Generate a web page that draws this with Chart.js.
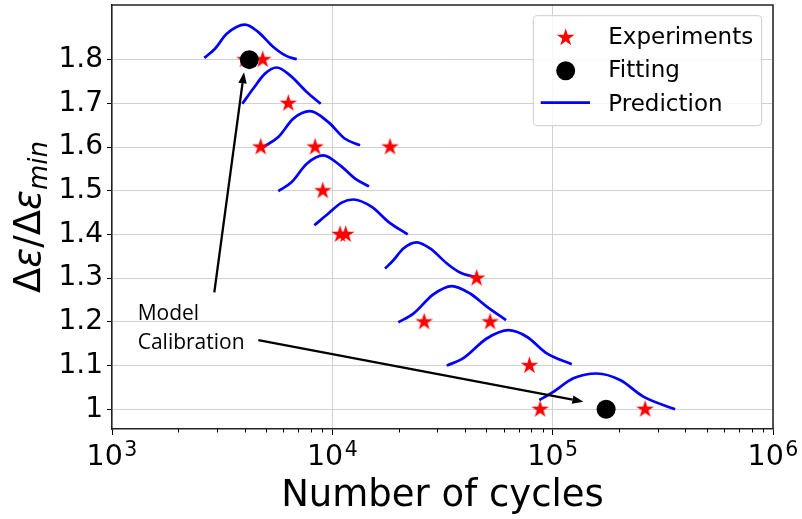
<!DOCTYPE html>
<html><head><meta charset="utf-8">
<script src="https://cdn.jsdelivr.net/npm/chart.js@4.4.1/dist/chart.umd.min.js"></script>
<style>html,body{margin:0;padding:0;background:#fff}</style>
</head><body>
<canvas id="c" width="802" height="519"></canvas>
<script>
// ---------- data ----------
const xTickExponents = [3, 4, 5, 6];
const yTickValues = [1, 1.1, 1.2, 1.3, 1.4, 1.5, 1.6, 1.7, 1.8];
const yTickLabels = ['1', '1.1', '1.2', '1.3', '1.4', '1.5', '1.6', '1.7', '1.8'];

const expCycles = [4015, 4830, 6310, 4730, 8350, 18280, 9050, 10840, 11500, 45200, 26100, 52000, 78400, 87700, 262700];
const expRatio  = [1.8, 1.8, 1.7, 1.6, 1.6, 1.6, 1.5, 1.4, 1.4, 1.3, 1.2, 1.2, 1.1, 1.0, 1.0];

const fitCycles = [4200, 174800];
const fitRatio  = [1.8, 1.0];

const pred18Cycles = [2624, 2934, 3316, 4015, 4614, 5398, 6209, 6893];
const pred18Ratio  = [1.804, 1.825, 1.859, 1.880, 1.863, 1.829, 1.808, 1.801];
const pred17Cycles = [3904, 4379, 4949, 5592, 6427, 7652, 8858];
const pred17Ratio  = [1.699, 1.734, 1.768, 1.782, 1.764, 1.726, 1.699];
const pred16Cycles = [4862, 5687, 6653, 7921, 9590, 11420, 13360];
const pred16Ratio  = [1.600, 1.623, 1.665, 1.682, 1.657, 1.619, 1.604];
const pred15Cycles = [5687, 6542, 7652, 9101, 10840, 12680, 14680];
const pred15Ratio  = [1.499, 1.520, 1.562, 1.581, 1.558, 1.528, 1.510];
const pred14Cycles = [8285, 9590, 11030, 12460, 15100, 17960, 21990];
const pred14Ratio  = [1.421, 1.448, 1.473, 1.480, 1.463, 1.429, 1.400];
const pred13Cycles = [17350, 18920, 21010, 24160, 27770, 33060, 37980, 46000];
const pred13Ratio  = [1.322, 1.341, 1.368, 1.382, 1.368, 1.334, 1.313, 1.301];
const pred12Cycles = [19930, 23320, 28740, 34830, 42190, 50220, 61440];
const pred12Ratio  = [1.199, 1.219, 1.263, 1.282, 1.265, 1.235, 1.204];
const pred11Cycles = [33060, 39320, 50220, 62930, 76270, 94010, 122100];
const pred11Ratio  = [1.100, 1.117, 1.162, 1.181, 1.166, 1.128, 1.103];
const pred10Cycles = [87010, 100700, 124200, 158600, 202300, 258000, 359400];
const pred10Ratio  = [1.021, 1.040, 1.071, 1.082, 1.067, 1.029, 1.000];

// annotation (data coordinates)
const noteLines = ['Model', 'Calibration'];
const noteAt = { x: 1308, y1: 1.2041, y2: 1.1371 };
const arrowUp = { fromX: 2913, fromY: 1.2674, toX: 3973, toY: 1.771 };
const arrowDown = { fromX: 4614, fromY: 1.1584, toX: 137900, toY: 1.0174 };

// ---------- helpers ----------
const RED = '#ff0000', BLUE = '#0000ff';
const pts = (xs, ys) => xs.map((x, i) => ({ x: x, y: ys[i] }));

function starPath(g, cx, cy, R) {
  const r = R * 0.381966;
  g.beginPath();
  for (let i = 0; i < 10; i++) {
    const a = -Math.PI / 2 + i * Math.PI / 5;
    const rr = i % 2 === 0 ? R : r;
    const px = cx + rr * Math.cos(a), py = cy + rr * Math.sin(a);
    if (i === 0) g.moveTo(px, py); else g.lineTo(px, py);
  }
  g.closePath();
}
function makeStar(R) {
  const size = Math.ceil(2 * R + 2);
  const c = document.createElement('canvas');
  c.width = size; c.height = size;
  const g = c.getContext('2d');
  starPath(g, size / 2, size / 2, R);
  g.fillStyle = RED; g.fill();
  return c;
}
const starImg = makeStar(9.3);

const predSets = [
  [pred18Cycles, pred18Ratio], [pred17Cycles, pred17Ratio], [pred16Cycles, pred16Ratio],
  [pred15Cycles, pred15Ratio], [pred14Cycles, pred14Ratio], [pred13Cycles, pred13Ratio],
  [pred12Cycles, pred12Ratio], [pred11Cycles, pred11Ratio], [pred10Cycles, pred10Ratio]
].map(([xs, ys]) => ({
  data: pts(xs, ys), showLine: true, borderColor: BLUE, borderWidth: 2.7,
  pointRadius: 0, cubicInterpolationMode: 'monotone', fill: false
}));

const datasets = [
  { label: 'Fitting', data: pts(fitCycles, fitRatio), pointStyle: 'circle', pointRadius: 9.5,
    backgroundColor: '#000', borderColor: '#000', borderWidth: 0 },
  { label: 'Experiments', data: pts(expCycles, expRatio), pointStyle: starImg, pointRadius: 9.3 },
  ...predSets
];

function arrow(g, x1, y1, x2, y2) {
  const ang = Math.atan2(y2 - y1, x2 - x1);
  const hl = 11, hw = 4.2;
  const bx = x2 - hl * Math.cos(ang), by = y2 - hl * Math.sin(ang);
  g.beginPath(); g.moveTo(x1, y1); g.lineTo(bx, by);
  g.lineWidth = 2.3; g.strokeStyle = '#000'; g.stroke();
  g.beginPath();
  g.moveTo(x2, y2);
  g.lineTo(bx + hw * Math.sin(ang), by - hw * Math.cos(ang));
  g.lineTo(bx - hw * Math.sin(ang), by + hw * Math.cos(ang));
  g.closePath(); g.fillStyle = '#000'; g.fill();
}

const decor = {
  id: 'decor',
  afterDatasetsDraw(chart) {
    const g = chart.ctx, xs = chart.scales.x, ys = chart.scales.y;
    g.save();
    arrow(g, xs.getPixelForValue(arrowUp.fromX), ys.getPixelForValue(arrowUp.fromY),
             xs.getPixelForValue(arrowUp.toX), ys.getPixelForValue(arrowUp.toY));
    arrow(g, xs.getPixelForValue(arrowDown.fromX), ys.getPixelForValue(arrowDown.fromY),
             xs.getPixelForValue(arrowDown.toX), ys.getPixelForValue(arrowDown.toY));
    g.fillStyle = '#000';
    g.font = '21px "Open Sans"';
    g.textAlign = 'left'; g.textBaseline = 'alphabetic';
    g.fillText(noteLines[0], xs.getPixelForValue(noteAt.x), ys.getPixelForValue(noteAt.y1));
    g.fillText(noteLines[1], xs.getPixelForValue(noteAt.x), ys.getPixelForValue(noteAt.y2));
    g.restore();
  },
  afterDraw(chart) {
    const g = chart.ctx, xs = chart.scales.x, ys = chart.scales.y, a = chart.chartArea;
    g.save();
    // frame top/right
    g.strokeStyle = '#222'; g.lineWidth = 1.5;
    g.beginPath();
    g.moveTo(a.left, a.top); g.lineTo(a.right, a.top); g.lineTo(a.right, a.bottom);
    g.stroke();
    // minor ticks
    g.strokeStyle = '#000'; g.lineWidth = 1;
    for (let e = xTickExponents[0]; e < xTickExponents[xTickExponents.length - 1]; e++) {
      for (let k = 2; k <= 9; k++) {
        const px = Math.round(xs.getPixelForValue(k * Math.pow(10, e))) + 0.5;
        g.beginPath(); g.moveTo(px, a.bottom); g.lineTo(px, a.bottom + 3.5); g.stroke();
      }
    }
    // x tick labels 10^n
    g.fillStyle = '#000'; g.textBaseline = 'alphabetic'; g.textAlign = 'left';
    xTickExponents.forEach(n => {
      const px = xs.getPixelForValue(Math.pow(10, n));
      g.font = '28.5px "DejaVu Sans"';
      const w1 = g.measureText('10').width;
      g.font = '20.5px "DejaVu Sans"';
      const w2 = g.measureText(String(n)).width;
      const x0 = px - (w1 + w2 + 1.5) / 2;
      g.font = '28.5px "DejaVu Sans"';
      g.fillText('10', x0, a.bottom + 36);
      g.font = '20.5px "DejaVu Sans"';
      g.fillText(String(n), x0 + w1 + 1.5, a.bottom + 26.5);
    });
    // x title
    g.font = '37px "DejaVu Sans"'; g.textAlign = 'center';
    g.fillText('Number of cycles', (a.left + a.right) / 2, 506);
    // y title: Δε/Δε_min
    g.translate(40, (a.top + a.bottom) / 2);
    g.rotate(-Math.PI / 2);
    g.textAlign = 'left';
    const parts = [
      ['Δ', '37px "DejaVu Sans"', 0], ['ε', 'italic 37px "DejaVu Sans"', 0],
      ['/', '37px "DejaVu Sans"', 0], ['Δ', '37px "DejaVu Sans"', 0],
      ['ε', 'italic 37px "DejaVu Sans"', 0], ['min', 'italic 26px "DejaVu Sans"', 7]
    ];
    let tot = 0;
    parts.forEach(p => { g.font = p[1]; tot += g.measureText(p[0]).width; });
    let cx = -tot / 2;
    parts.forEach(p => { g.font = p[1]; g.fillText(p[0], cx, p[2]); cx += g.measureText(p[0]).width; });
    g.restore();

    // legend
    g.save();
    const lx = 533.3, ly = 15.7, lw = 228.4, lh = 110;
    g.beginPath();
    g.roundRect(lx, ly, lw, lh, 4);
    g.fillStyle = 'rgba(255,255,255,0.8)'; g.fill();
    g.strokeStyle = '#cccccc'; g.lineWidth = 1; g.stroke();
    starPath(g, 565.7, 37.7, 9.3); g.fillStyle = RED; g.fill();
    g.beginPath(); g.arc(565.7, 70.7, 9.5, 0, Math.PI * 2); g.fillStyle = '#000'; g.fill();
    g.beginPath(); g.moveTo(540.7, 102.7); g.lineTo(590, 102.7);
    g.strokeStyle = BLUE; g.lineWidth = 2.7; g.stroke();
    g.fillStyle = '#000'; g.font = '23px "DejaVu Sans"'; g.textAlign = 'left'; g.textBaseline = 'alphabetic';
    g.fillText('Experiments', 608.3, 43.5);
    g.fillText('Fitting', 608.3, 77.3);
    g.fillText('Prediction', 608.3, 111);
    g.restore();
  }
};

new Chart(document.getElementById('c'), {
  type: 'scatter',
  data: { datasets: datasets },
  plugins: [decor],
  options: {
    responsive: false, animation: false, events: [],
    layout: { autoPadding: false, padding: { top: 5, right: 29, left: 0, bottom: 0 } },
    plugins: { legend: { display: false }, tooltip: { enabled: false } },
    scales: {
      x: {
        type: 'logarithmic', min: Math.pow(10, xTickExponents[0]), max: Math.pow(10, xTickExponents[xTickExponents.length - 1]),
        afterBuildTicks: s => { s.ticks = xTickExponents.map(n => ({ value: Math.pow(10, n) })); },
        afterFit: s => { s.height = 90; s.paddingLeft = 0; s.paddingRight = 0; },
        ticks: { display: false },
        grid: { color: '#d0d0d0', lineWidth: 1, tickColor: '#000', tickLength: 6, drawTicks: true },
        border: { color: '#222', width: 1.5 }
      },
      y: {
        type: 'linear', min: 0.955, max: 1.925,
        afterBuildTicks: s => { s.ticks = yTickValues.map(v => ({ value: v })); },
        afterFit: s => { s.width = 112; s.paddingTop = 0; s.paddingBottom = 0; },
        ticks: { font: { family: 'DejaVu Sans', size: 28 }, color: '#000', padding: 4,
                 callback: (v, i) => yTickLabels[i] },
        grid: { color: '#d0d0d0', lineWidth: 1, tickColor: '#000', tickLength: 5 },
        border: { color: '#222', width: 1.5 }
      }
    }
  }
});
</script>
</body></html>
